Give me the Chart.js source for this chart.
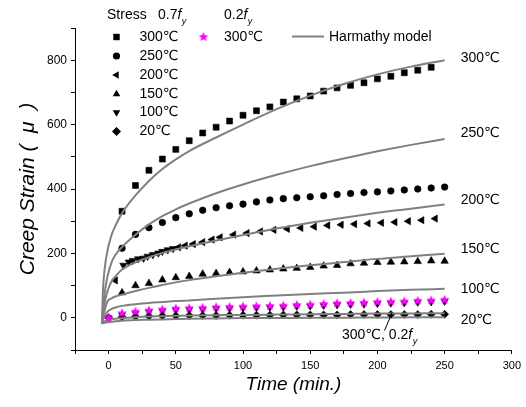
<!DOCTYPE html>
<html><head><meta charset="utf-8">
<script src="https://cdn.jsdelivr.net/npm/chart.js@4.4.0/dist/chart.umd.min.js"></script>
<style>html,body{margin:0;padding:0;background:#fff}</style>
</head><body>
<canvas id="c" width="526" height="407"></canvas>
<script>
// ---------- data ----------
const sq300X = [10,20,30,40,50,60,70,80,90,100,110,120,130,140,150,160,170,180,190,200,210,220,230,240];
const sq300Y = [331,411,458,493,523,550,574,592,611,629,643,655,670,680,689,704,714,722,730,742,750,761,769,778];

const ci250X = [10,20,30,40,50,60,70,80,90,100,110,120,130,140,150,160,170,180,190,200,210,220,230,240,250];
const ci250Y = [216,259,280,296,311,323,334,342,348,353,360,366,370,373,376,379,383,386,389,391,394,397,400,403,406];

const tr200X = [5,11,15,18,22,26,29,33,37,40,44,48,52,57,63,70,77,83,93,103,113,123,133,143,153,163,173,183,193,203,213,223,233,243];
const tr200Y = [116,163,173,178,183,185,191,196,201,206,211,215,219,224,229,235,243,250,258,263,268,273,276,279,283,287,289,291,293,295,297,300,303,308];
const tr200Rot = [270,180,180,180,180,180,180,180,180,180,180,180,270,270,270,270,270,270,270,270,270,270,270,270,270,270,270,270,270,270,270,270,270,270];

const tr150X = [10,20,30,40,50,60,70,80,90,100,110,120,130,140,150,160,170,180,190,200,210,220,230,240,250];
const tr150Y = [78,100,107,118,125,129,136,138,141,143,146,149,152,154,157,161,163,168,170,172,173,174,175,177,176];

const t10X = [0,10,20,30,40,50,60,70,80,90,100,110,120,130,140,150,160,170,180,190,200,210,220,230,240,250];
const dn100Y = [0,9,14,18,21,24,25,26,28,29,30,31,32,33,35,36,38,40,41,42,44,45,46,48,49,51];
const di20Y  = [0,3,4,5,6,6,7,7,7,8,8,8,8,9,9,9,9,9,10,10,10,10,10,10,11,11];
const st300Y = [0,14,19,23,26,29,30,31,33,34,35,36,37,38,40,41,43,45,46,47,49,50,51,53,54,56];

// Harmathy model curves
const modelX = [-5,-4.5,-4,-3,-1,2,5,10,20,30,40,50,60,80,100,125,150,175,200,225,250];
const m300 = [-18,50,100,150,205,255,285,325,380,425,462,492,518,560,600,648,690,726,756,780,800];
const m250 = [-18,5,30,75,125,170,195,220,258,290,316,337,355,387,414,444,471,495,517,537,555];
const m200 = [-18,-5,15,45,80,112,128,150,172,188,201,212,222,240,257,277,295,311,326,339,352];
const m150 = [-18,-8,5,22,50,60,66,72,83,93,102,110,117,129,140,152,163,173,183,191,199];
const m100 = [-18,-12,-5,5,18,27,32,37,42,46,49,52,54,59,64,69,74,78,83,87,90];
const m20  = [-18,-16,-14,-11,-8,-5,-3,-1,2,4,5,6,7,8,9,10,11,12,13,13.5,14];
const m300low = [-18,-17,-16.5,-15.5,-14,-12.5,-11,-9,-7,-6,-5,-4,-3,-2,-1,-0.5,0,0.5,1,1.5,2];

const xTickMin = -25, xTickMax = 300, xStep = 25, xLabelStep = 50;
const yTickMin = -100, yTickMax = 900, yStep = 100, yLabelStep = 200;

const rightLabels = ['300℃','250℃','200℃','150℃','100℃','20℃'];
const rightLabelY = [805,575,365,212,90,-8];
const rightLabelX = 262;

// ---------- helpers ----------
const FONT = '"Liberation Sans", Arial, "DejaVu Sans", sans-serif';
const GRAY = 'rgb(128,128,128)';
const PINK = '#ff00ff';

function makeStar(r, color){
  const s = Math.ceil(r*2)+2;
  const c = document.createElement('canvas'); c.width = s; c.height = s;
  const g = c.getContext('2d'); g.fillStyle = color; g.beginPath();
  for (let i=0;i<10;i++){
    const a = -Math.PI/2 + i*Math.PI/5; const rr = i%2 ? r*0.46 : r;
    g.lineTo(s/2 + rr*Math.cos(a), s/2 + rr*Math.sin(a));
  }
  g.closePath(); g.fill(); return c;
}
const starImg = makeStar(5, PINK);

const pts = (xs, ys) => xs.map((x,i)=>({x, y: ys[i]}));

function markerDs(label, xs, ys, style, rot, radius){
  return {label, data: pts(xs,ys), showLine:false, pointStyle:style, pointRotation:rot||0,
    pointRadius:radius, pointHoverRadius:radius, backgroundColor:'#000', borderColor:'#000', borderWidth:0.6};
}
function curveDs(label, ys){
  return {label, data: pts(modelX, ys), showLine:true, pointRadius:0, borderColor:GRAY,
    borderWidth:2, cubicInterpolationMode:'monotone', fill:false};
}

const datasets = [
  {label:'300 0.2fy', data: pts(t10X, st300Y), showLine:false, pointStyle:starImg, pointRadius:5},
  curveDs('m300', m300), curveDs('m250', m250), curveDs('m200', m200),
  curveDs('m150', m150), curveDs('m100', m100), curveDs('m20', m20), curveDs('m300low', m300low),
  markerDs('300', sq300X, sq300Y, 'rect', 0, 4.2),
  markerDs('250', ci250X, ci250Y, 'circle', 0, 3.3),
  markerDs('200', tr200X, tr200Y, 'triangle', tr200Rot, 4.2),
  markerDs('150', tr150X, tr150Y, 'triangle', 0, 4.3),
  markerDs('100', t10X, dn100Y, 'triangle', 180, 4),
  markerDs('20', t10X, di20Y, 'rectRot', 0, 4)
];

function drawFy(ctx, x, y, pre){
  ctx.font = '14px ' + FONT;
  ctx.fillText(pre, x, y);
  let w = ctx.measureText(pre).width;
  ctx.font = 'italic 14px ' + FONT;
  ctx.fillText('f', x + w, y);
  w += ctx.measureText('f').width + 0.5;
  ctx.font = 'italic 9px ' + FONT;
  ctx.fillText('y', x + w, y + 6);
}

function marker(ctx, type, x, y){
  ctx.fillStyle = '#000';
  ctx.beginPath();
  const r = 4.3;
  if (type==='rect'){ ctx.rect(x-3.2,y-3.2,6.4,6.4); }
  else if (type==='circle'){ ctx.arc(x,y,3.6,0,Math.PI*2); }
  else if (type==='left'){ ctx.moveTo(x-r,y); ctx.lineTo(x+2.2,y-3.8); ctx.lineTo(x+2.2,y+3.8); }
  else if (type==='up'){ ctx.moveTo(x,y-r); ctx.lineTo(x+3.8,y+2.3); ctx.lineTo(x-3.8,y+2.3); }
  else if (type==='down'){ ctx.moveTo(x,y+r); ctx.lineTo(x+3.8,y-2.3); ctx.lineTo(x-3.8,y-2.3); }
  else if (type==='diamond'){ ctx.moveTo(x,y-4.5); ctx.lineTo(x+4.5,y); ctx.lineTo(x,y+4.5); ctx.lineTo(x-4.5,y); }
  ctx.closePath(); ctx.fill();
}

const overlay = {
  id:'overlay',
  afterDraw(chart){
    const ctx = chart.ctx; const xs = chart.scales.x, ys = chart.scales.y;
    ctx.save();
    ctx.fillStyle = '#000'; ctx.textBaseline = 'middle'; ctx.textAlign = 'left';
    // legend header
    ctx.font = '14px ' + FONT;
    ctx.fillText('Stress', 107, 15);
    drawFy(ctx, 158, 15, '0.7');
    ctx.fillStyle = '#000';
    drawFy(ctx, 224, 15, '0.2');
    // legend rows
    const rows = [['rect','300℃'],['circle','250℃'],['left','200℃'],['up','150℃'],['down','100℃'],['diamond','20℃']];
    const rowY = [37,56,75,94,112.5,131.5];
    rows.forEach((r,i)=>{
      marker(ctx, r[0], 116.5, rowY[i]);
      ctx.fillStyle = '#000'; ctx.font = '14px ' + FONT;
      ctx.fillText(r[1], 139.5, rowY[i]);
    });
    ctx.drawImage(starImg, 203.5 - starImg.width/2, 37 - starImg.height/2);
    ctx.fillStyle = '#000'; ctx.font = '14px ' + FONT;
    ctx.fillText('300℃', 224, 37);
    ctx.strokeStyle = GRAY; ctx.lineWidth = 2;
    ctx.beginPath(); ctx.moveTo(292, 36.5); ctx.lineTo(324, 36.5); ctx.stroke();
    ctx.fillText('Harmathy model', 329, 37);
    // right labels
    rightLabels.forEach((t,i)=>{
      ctx.fillText(t, xs.getPixelForValue(rightLabelX), ys.getPixelForValue(rightLabelY[i]));
    });
    // annotation
    ctx.fillStyle = '#000';
    drawFy(ctx, 342, 335, '300℃, 0.2');
    ctx.strokeStyle = '#000'; ctx.lineWidth = 1;
    const ax0 = 384.5, ay0 = 330.5, ax1 = 392, ay1 = 313;
    ctx.beginPath(); ctx.moveTo(ax0, ay0); ctx.lineTo(ax1, ay1); ctx.stroke();
    const ang = Math.atan2(ay1-ay0, ax1-ax0);
    ctx.fillStyle = '#000';
    ctx.beginPath(); ctx.moveTo(ax1, ay1);
    ctx.lineTo(ax1 - 5*Math.cos(ang-0.4), ay1 - 5*Math.sin(ang-0.4));
    ctx.lineTo(ax1 - 5*Math.cos(ang+0.4), ay1 - 5*Math.sin(ang+0.4));
    ctx.closePath(); ctx.fill();
    ctx.restore();
  }
};

new Chart(document.getElementById('c'), {
  type:'scatter',
  data:{datasets},
  options:{
    responsive:false, animation:false, devicePixelRatio:1,
    layout:{padding:{left:0,right:14,top:28,bottom:0}},
    plugins:{legend:{display:false}, tooltip:{enabled:false}},
    scales:{
      x:{type:'linear', min:xTickMin, max:xTickMax,
        afterFit(s){ s.height = 57; },
        border:{display:true, color:'#000', width:1},
        grid:{display:true, drawOnChartArea:false, drawTicks:true, tickLength:4, color:'#000', tickColor:'#000'},
        ticks:{stepSize:xStep, padding:5, color:'#000', autoSkip:false, maxRotation:0, font:{size:11, family:FONT},
          callback:(v)=> (v>=0 && v%xLabelStep===0) ? String(v) : ''},
        title:{display:true, text:'Time (min.)', color:'#000', font:{size:19, style:'italic', family:FONT}, padding:{top:0,bottom:11}}
      },
      y:{type:'linear', min:yTickMin, max:yTickMax,
        afterFit(s){ s.width = 75; },
        border:{display:true, color:'#000', width:1},
        grid:{display:true, drawOnChartArea:false, drawTicks:true, tickLength:4, color:'#000', tickColor:'#000'},
        ticks:{stepSize:yStep, padding:4, color:'#000', autoSkip:false, font:{size:12, family:FONT},
          callback:(v)=> (v>=0 && v<=800 && v%yLabelStep===0) ? String(v) : ''},
        title:{display:true, text:'Creep Strain (  μ  )', color:'#000', font:{size:21, style:'italic', family:FONT}, padding:{top:16,bottom:0}}
      }
    }
  },
  plugins:[overlay]
});
</script>
</body></html>
